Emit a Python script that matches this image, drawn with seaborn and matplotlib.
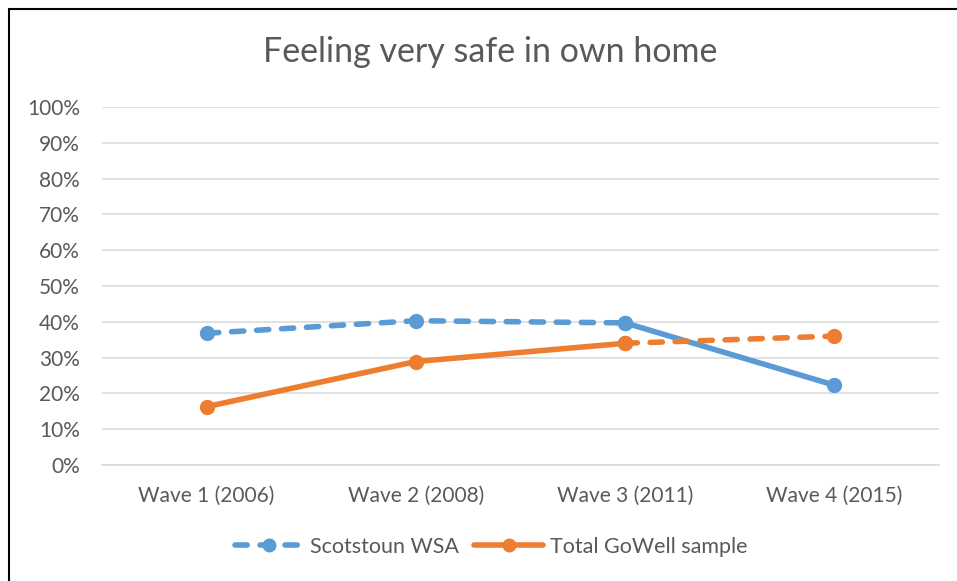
import matplotlib
matplotlib.use('Agg')
import matplotlib.pyplot as plt
import matplotlib.lines as mlines
import numpy as np
import pandas as pd
import seaborn as sns

waves = ['Wave 1 (2006)', 'Wave 2 (2008)', 'Wave 3 (2011)', 'Wave 4 (2015)']
scotstoun = [0.368, 0.403, 0.397, 0.223]
gowell = [0.163, 0.289, 0.340, 0.360]

BLUE = '#5b9bd5'
ORANGE = '#ed7d31'
GREY = '#595959'

sns.set_theme(style='white')
plt.rcParams['font.family'] = ['Lato', 'DejaVu Sans']

df = pd.DataFrame({'pos': np.arange(len(waves)), 'wave': waves,
                   'scot': scotstoun, 'gowell': gowell})

fig = plt.figure(figsize=(9.57, 5.81), dpi=100)
ax = fig.add_axes([102 / 957, 1 - 465 / 581, (939 - 102) / 957, (465 - 107) / 581])

lw = 4.0
ms = 11
dash = (2.2, 2.3)

# Scotstoun: dashed for waves 1-3, solid from 3 to 4
sns.lineplot(data=df.iloc[:3], x='pos', y='scot', ax=ax, color=BLUE, lw=lw,
             linestyle=(0, dash), dash_capstyle='round',
             marker='o', markersize=ms, markeredgewidth=0, zorder=3)
sns.lineplot(data=df.iloc[2:], x='pos', y='scot', ax=ax, color=BLUE, lw=lw,
             marker='o', markersize=ms, markeredgewidth=0, zorder=3,
             solid_capstyle='round')
# GoWell: solid for waves 1-3, dashed from 3 to 4
sns.lineplot(data=df.iloc[:3], x='pos', y='gowell', ax=ax, color=ORANGE, lw=lw,
             marker='o', markersize=ms, markeredgewidth=0, zorder=4,
             solid_capstyle='round')
sns.lineplot(data=df.iloc[2:], x='pos', y='gowell', ax=ax, color=ORANGE, lw=lw,
             linestyle=(0, dash), dash_capstyle='round',
             marker='o', markersize=ms, markeredgewidth=0, zorder=4)

ax.set_xlim(-0.5, len(waves) - 0.5)
ax.set_ylim(0, 1)
ax.set_yticks(np.linspace(0, 1, 11))
ax.set_yticklabels([f'{int(round(v * 100))}%' for v in np.linspace(0, 1, 11)])
ax.set_xticks(df['pos'])
ax.set_xticklabels(waves)
ax.set_xlabel('')
ax.set_ylabel('')
ax.grid(axis='y', color='#d9d9d9', lw=1.1)
ax.grid(axis='x', visible=False)
for side in ['top', 'right', 'left']:
    ax.spines[side].set_visible(False)
ax.spines['bottom'].set_color('#d9d9d9')
ax.spines['bottom'].set_linewidth(1.1)
ax.tick_params(axis='both', length=0, labelsize=15, labelcolor=GREY)
ax.tick_params(axis='y', pad=16)
ax.tick_params(axis='x', pad=15)

fig.text(490 / 957, 1 - 52 / 581, 'Feeling very safe in own home', ha='center',
         va='center', fontsize=24.5, color=GREY)

h1 = mlines.Line2D([], [], color=BLUE, lw=lw, linestyle=(0, dash),
                   dash_capstyle='round', marker='o', markersize=ms - 2)
h2 = mlines.Line2D([], [], color=ORANGE, lw=lw, marker='o', markersize=ms - 2)
fig.legend([h1, h2], ['Scotstoun WSA', 'Total GoWell sample'], loc='center',
           bbox_to_anchor=(491 / 957, 1 - 547 / 581), ncol=2, frameon=False,
           fontsize=15.5, labelcolor=GREY, handlelength=3.2, columnspacing=0.7,
           handletextpad=0.3)

# chart border (left and top edges visible in the reference)
fig.add_artist(mlines.Line2D([9 / 957, 9 / 957], [0, 1 - 9 / 581],
                             transform=fig.transFigure, color='black', lw=1.5))
fig.add_artist(mlines.Line2D([9 / 957, 1], [1 - 9 / 581, 1 - 9 / 581],
                             transform=fig.transFigure, color='black', lw=1.5))

fig.savefig('out.png', dpi=100)
